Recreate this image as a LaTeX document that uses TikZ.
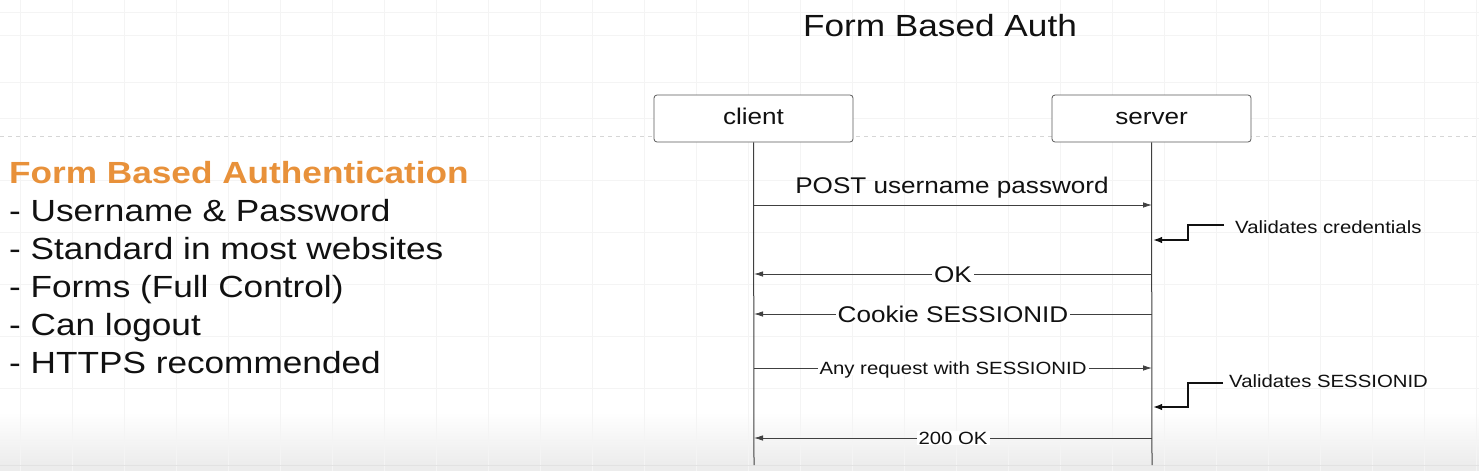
\documentclass[tikz,border=0pt]{standalone}
\usepackage{fontspec}
\setmainfont{Liberation Sans}[FakeStretch=1.15]
\usetikzlibrary{arrows.meta}
\definecolor{txt}{HTML}{111111}
\definecolor{boxc}{HTML}{5A5A5A}
\definecolor{linec}{HTML}{404040}
\definecolor{orangec}{HTML}{E8913A}
\definecolor{gridc}{HTML}{F4F4F4}
\definecolor{guidec}{HTML}{D6D6D6}
\definecolor{bandc}{HTML}{ECECEC}
\newcommand\fnthuge{\fontsize{30.6}{37.8}\selectfont}
\newcommand\fntbig{\fontsize{22.7}{27}\selectfont}
\newcommand\fntsmall{\fontsize{17.7}{21}\selectfont}
\begin{document}
\begin{tikzpicture}[x=1pt,y=-1pt,
  every node/.style={inner sep=0pt, text=txt},
  lifebox/.style={draw=boxc, line width=0.8pt, rounded corners=3pt, fill=white,
    minimum width=199pt, minimum height=47pt, font=\fntbig, text height=16.3pt, text depth=5.3pt},
  lifeline/.style={draw=linec, line width=1pt},
  msg/.style={draw=linec, line width=0.8pt, -{Latex[length=9pt,width=5.5pt]}},
  onlbl/.style={fill=white, inner xsep=2pt, inner ysep=1pt, text height=16.3pt, text depth=0pt},
  onlblsm/.style={fill=white, inner xsep=2pt, inner ysep=1pt, font=\fntsmall, text height=12.7pt, text depth=0pt},
  callout/.style={draw=txt, line width=1.7pt, -{Latex[length=9pt,width=6.5pt]}},
  bullet/.style={anchor=base west, font=\fnthuge},
]
\useasboundingbox (0,0) rectangle (1479,471);
% background
\fill[white] (0,0) rectangle (1479,471);
\shade[top color=white, bottom color=bandc] (0,412) rectangle (1479,465);
\fill[bandc] (0,465) rectangle (1479,471);
\foreach \gx in {20,72,124,176,228,280,332,384,436,488,540,592,644,696,748,800,852,904,956,1008,1060,1112,1164,1216,1268,1320,1372,1424,1476}
  \draw[gridc, line width=0.6pt] (\gx,0) -- (\gx,471);
\foreach \gy in {12,35,82,118,180,232,284,336,388,440}
  \draw[gridc, line width=0.6pt] (0,\gy) -- (1479,\gy);
\draw[guidec, line width=0.7pt, dash pattern=on 4pt off 4pt] (0,136) -- (1479,136);
\draw[guidec!70, line width=0.5pt] (0,465) -- (1479,465);

% title
\node[anchor=base, font=\fnthuge] (title) at (940,36) {Form Based Auth};

% left text
\node[bullet, text=orangec, font=\fnthuge\bfseries] (h) at (9,183) {Form Based Authentication};
\node[bullet] (b1) at (9,221) {- Username \& Password};
\node[bullet] (b2) at (9,259) {- Standard in most websites};
\node[bullet] (b3) at (9,297) {- Forms (Full Control)};
\node[bullet] (b4) at (9,335) {- Can logout};
\node[bullet] (b5) at (9,373) {- HTTPS recommended};

% participants
\node[lifebox] (client) at (753.5,118.5) {client};
\node[lifebox] (server) at (1151.5,118.5) {server};
\coordinate (cend) at (754,465);
\coordinate (send) at (1152,465);
\draw[lifeline] (client.south) -- (cend);
\draw[lifeline] (server.south) -- (send);

% message anchors on lifelines
\coordinate (c1) at (754,205);  \coordinate (s1) at (1152,205);
\coordinate (c2) at (754,274);  \coordinate (s2) at (1152,274);
\coordinate (c3) at (754,314);  \coordinate (s3) at (1152,314);
\coordinate (c4) at (754,368);  \coordinate (s4) at (1152,368);
\coordinate (c5) at (754,438);  \coordinate (s5) at (1152,438);
\coordinate (v1) at (1153,240);
\coordinate (v2) at (1153,407);

% messages
\draw[msg] (c1) -- (s1);
\node[anchor=base, font=\fntbig] (m1) at (952,193) {POST username password};
\draw[msg] (s2) -- node[onlbl, font=\fntbig] (m2) {OK} (c2);
\draw[msg] (s3) -- node[onlbl, font=\fntbig] (m3) {Cookie SESSIONID} (c3);
\draw[msg] (c4) -- node[onlblsm] (m4) {Any request with SESSIONID} (s4);
\draw[msg] (s5) -- node[onlblsm] (m5) {200 OK} (c5);

% notes
\node[anchor=base west, font=\fntsmall] (n1) at (1235,233) {Validates credentials};
\node[anchor=base west, font=\fntsmall] (n2) at (1229,387) {Validates SESSIONID};
\draw[callout] ([xshift=-11pt,yshift=1.5pt]n1.west) -- ++(-36,0) |- (v1);
\draw[callout] ([xshift=-6pt,yshift=-2pt]n2.west) -- ++(-35,0) |- (v2);
\end{tikzpicture}
\end{document}
